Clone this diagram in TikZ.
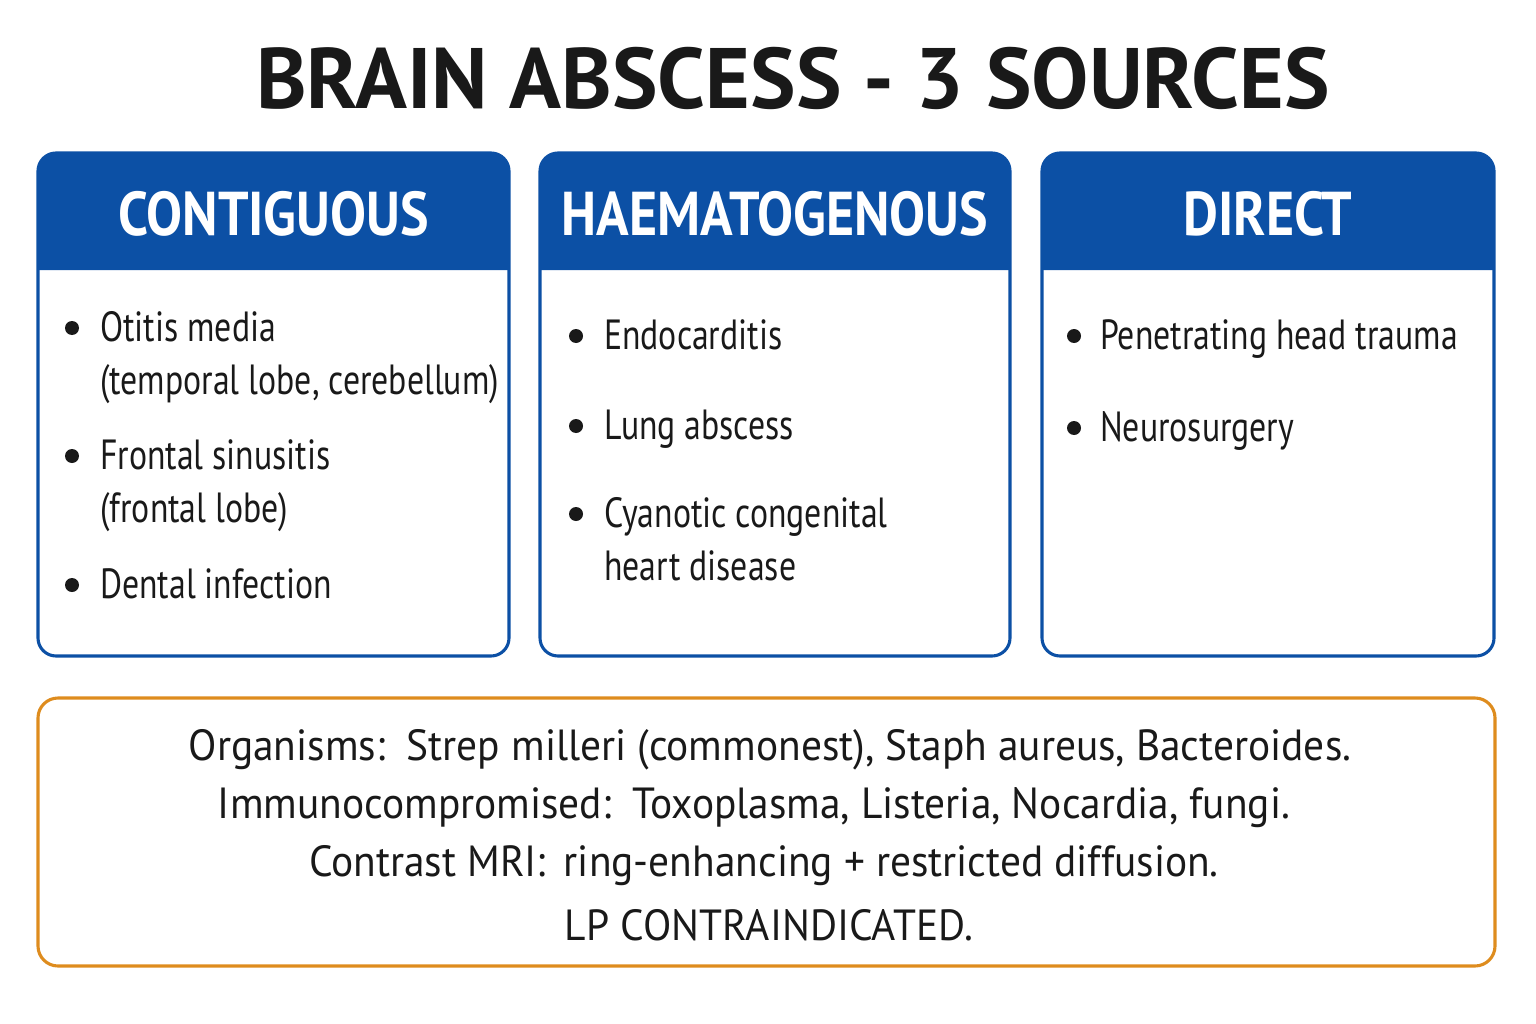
\documentclass[tikz,border=0pt]{standalone}
\usepackage{fontspec}
\setmainfont{PT Sans}
\definecolor{hdblue}{RGB}{12, 80, 165}
\definecolor{boxorange}{RGB}{222, 140, 30}
\definecolor{inkgray}{RGB}{25, 25, 25}
\newcommand\lines[1]{\begin{tabular}[t]{@{}l@{}}#1\end{tabular}}
\begin{document}
\begin{tikzpicture}[
x = 0.025cm, y = -0.025cm,
 frame/.style = {draw=hdblue, line width=2.2pt, rounded corners=0.45cm},
 htext/.style = {text=white, xscale=0.87, transform shape,
                 font=\fontsize{44}{48}\selectfont\bfseries},
  item/.style = {anchor=base west, text=inkgray, inner sep=0pt,
                 xscale=0.8, transform shape,
                 font=\fontsize{30}{37.7}\selectfont},
  note/.style = {text=inkgray, inner sep=0pt, xscale=0.95, transform shape,
                 font=\fontsize{31}{36}\selectfont}
                 ]
\useasboundingbox (0,0) rectangle (1536,1024);

\node[text=inkgray, font=\fontsize{61}{66}\selectfont\bfseries] (title) at (793,78)
     {BRAIN ABSCESS - 3 SOURCES};

% the three source columns
\foreach \xa/\xb/\nm/\hd in {38/509/cont/CONTIGUOUS,
                              540/1010/haem/HAEMATOGENOUS,
                              1042/1494/dir/DIRECT}
{
\fill[hdblue] (\xa,270) [rounded corners=0.45cm] -- (\xa,153) -- (\xb,153)
              [sharp corners] -- (\xb,270) -- cycle;
\draw[frame] (\xa,153) rectangle (\xb,656);
\node[htext] (\nm) at ({(\xa+\xb)/2},214) {\hd};
}

\node[item] (otitis)   at (100,341) {\lines{Otitis media\\(temporal lobe, cerebellum)}};
\node[item] (frontal)  at (100,469) {\lines{Frontal sinusitis\\(frontal lobe)}};
\node[item] (dental)   at (100,598) {Dental infection};
\node[item] (endo)     at (604,349) {Endocarditis};
\node[item] (lung)     at (604,439) {Lung abscess};
\node[item] (cyan)     at (604,527) {\lines{Cyanotic congenital\\heart disease}};
\node[item] (trauma)   at (1100,349) {Penetrating head trauma};
\node[item] (neuro)    at (1100,441) {Neurosurgery};

\foreach \bx/\by in {72/328, 72/456, 72/585, 576/336, 576/426, 576/514,
                     1074/336, 1074/428}
  \fill[inkgray] (\bx,\by) circle (7);

% summary box
\draw[draw=boxorange, line width=2.2pt, rounded corners=0.5cm] (38,698) rectangle (1495,966);
\node[note] (org)   at (770,750) {Organisms:\, Strep milleri (commonest), Staph aureus, Bacteroides.};
\node[note] (immun) at (754,808) {Immunocompromised:\, Toxoplasma, Listeria, Nocardia, fungi.};
\node[note] (mri)   at (764,866) {Contrast MRI:\, ring-enhancing + restricted diffusion.};
\node[note] (lp)    at (769,925) {LP CONTRAINDICATED.};
\end{tikzpicture}
\end{document}
